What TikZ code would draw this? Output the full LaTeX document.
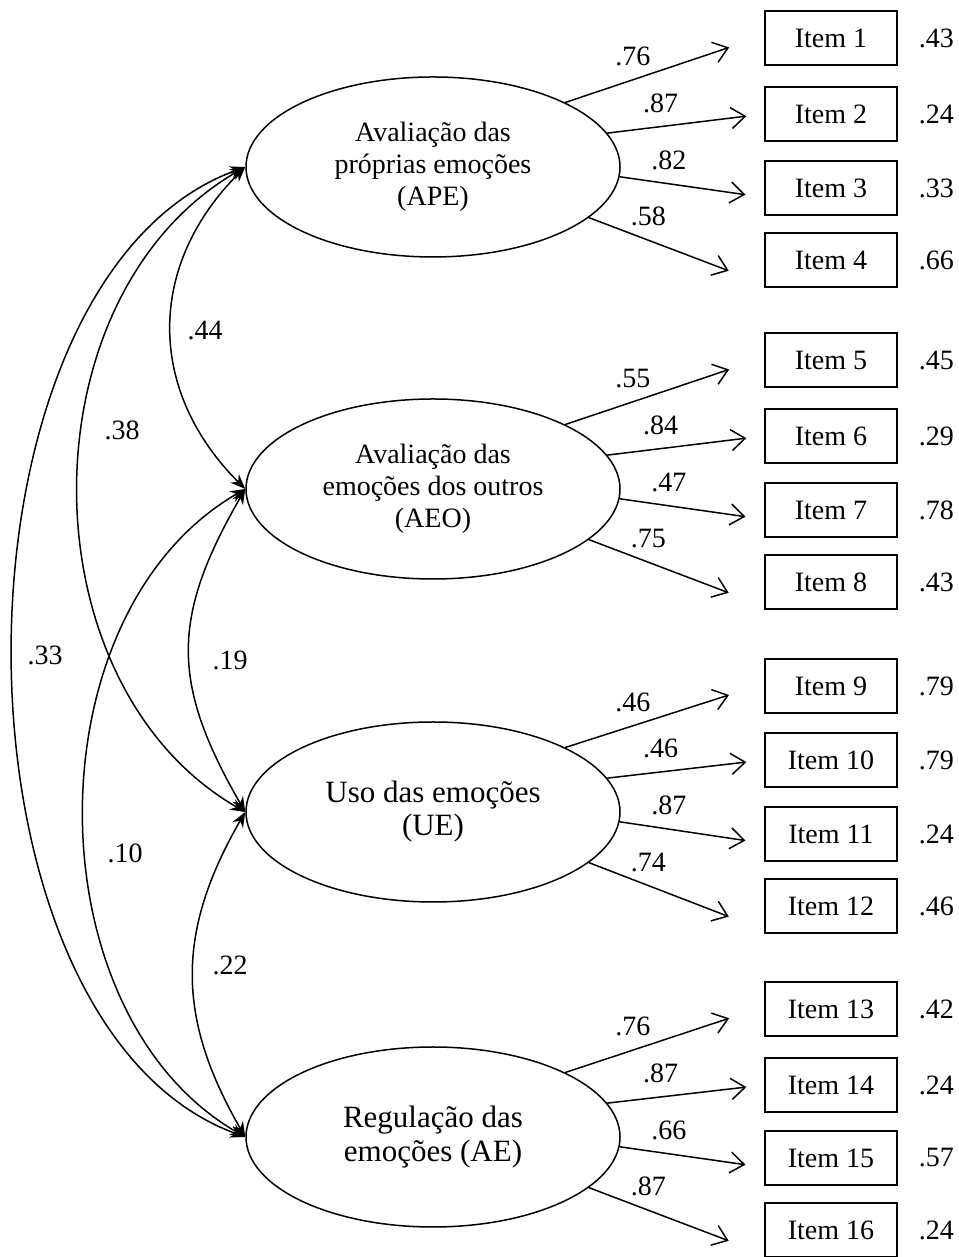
\documentclass[tikz,border=0pt]{standalone}
\usepackage{fontspec}
\setmainfont{Liberation Serif}
\usepackage{tikz}
\usetikzlibrary{positioning,shapes.geometric,arrows.meta}

\begin{document}
\begin{tikzpicture}[x=1pt, y=1pt, line width=1.5pt, black,
    latent/.style={draw, ellipse, minimum width=374pt, minimum height=180pt, inner sep=0pt, align=center, font=\fontsize{28}{32}\selectfont},
    observed/.style={draw, rectangle, minimum width=132pt, minimum height=54pt, inner sep=0pt, font=\fontsize{28}{32}\selectfont},
    coef/.style={font=\fontsize{28}{32}\selectfont},
    loadarrow/.style={-{Straight Barb[length=14pt,width=21pt]}},
    covarrow/.style={{Stealth[length=15pt,width=12pt]}-{Stealth[length=15pt,width=12pt]}}]

    \useasboundingbox (0,0) rectangle (958,1257);

    %factors
    \node[latent] (APE) at (433,1090) {Avaliação das\\próprias emoções\\(APE)};
    \node[latent] (AEO) at (433,768) {Avaliação das\\emoções dos outros\\(AEO)};
    \node[latent, font=\fontsize{31}{33}\selectfont] (UE) at (433,445) {Uso das emoções\\(UE)};
    \node[latent, font=\fontsize{31}{34}\selectfont] (AE) at (433,120) {Regulação das\\emoções (AE)};

    %items + error values
    \foreach \n/\y/\err in {1/1219/.43, 2/1143/.24, 3/1069/.33, 4/997/.66,
                            5/897/.45, 6/821/.29, 7/747/.78, 8/675/.43,
                            9/571/.79, 10/497/.79, 11/423/.24, 12/351/.46,
                            13/248/.42, 14/172/.24, 15/99/.57, 16/27/.24}{
    	\node[observed] (i\n) at (831,\y) {Item \n};
    	\node[coef, right=17pt of i\n] (e\n) {\err};
    }

    %loadings
    \foreach \f/\k/\la/\lb/\lc/\ld in {APE/0/.76/.87/.82/.58, AEO/4/.55/.84/.47/.75,
                                      UE/8/.46/.46/.87/.74, AE/12/.76/.87/.66/.87}{
    	\foreach \j/\s/\t/\g/\l in {1/26/178/37/\la, 2/11/180/18/\lb, 3/-3/188/19/\lc, 4/-18/200/38/\ld}{
    		\pgfmathtruncatemacro{\it}{\k+\j}
    		\draw[loadarrow, shorten >=\g pt] (\f.\s) -- (i\it.\t) node[coef, pos=0.34, above=10pt] {\l};
    	}
    }

    %covariances
    \draw[covarrow] (APE.west) to[out=225, in=135, looseness=1.11] (AEO.west);
    \draw[covarrow] (APE.west) to[out=210, in=150, looseness=1.02] (UE.west);
    \draw[covarrow] (APE.west) to[out=200, in=160, looseness=0.87] (AE.west);
    \draw[covarrow] (AEO.west) to[out=240, in=120, looseness=1.18] (UE.west);
    \draw[covarrow] (AEO.west) to[out=210, in=150, looseness=0.98] (AE.west);
    \draw[covarrow] (UE.west) to[out=240, in=120, looseness=1.09] (AE.west);

    %covariance labels
    \node[coef] (c44) at (205,927) {.44};
    \node[coef] (c38) at (122,827) {.38};
    \node[coef] (c33) at (45,602) {.33};
    \node[coef] (c19) at (230,597) {.19};
    \node[coef] (c10) at (125,404) {.10};
    \node[coef] (c22) at (230,292) {.22};

\end{tikzpicture}
\end{document}
